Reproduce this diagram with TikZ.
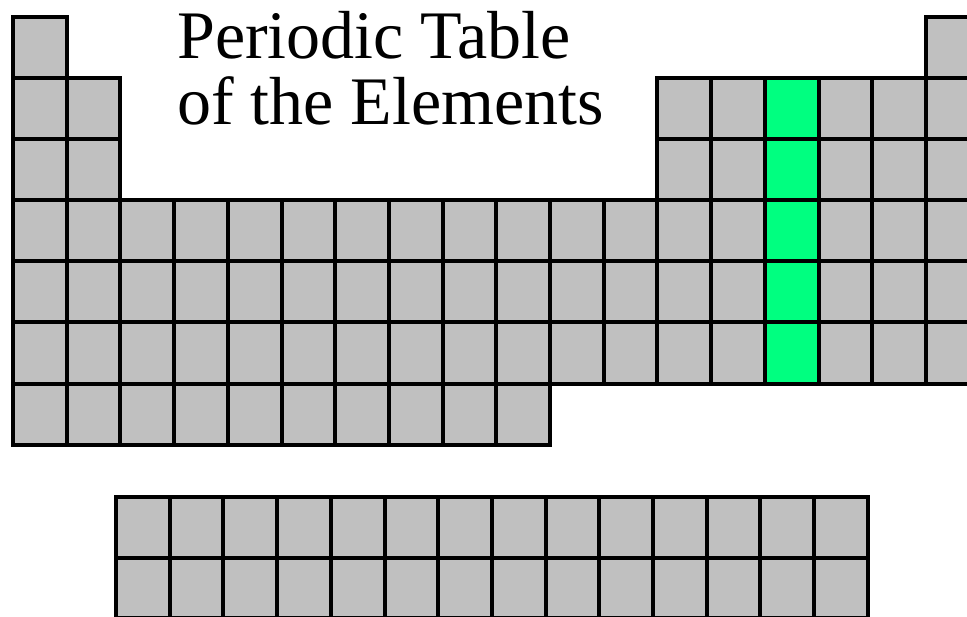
\documentclass[tikz,border=0pt]{standalone}
\usepackage{fontspec}
\setmainfont{Liberation Serif}
\definecolor{cellgray}{RGB}{192,192,192}
\definecolor{cellgreen}{RGB}{0,255,128}
\begin{document}
\begin{tikzpicture}[x=1pt,y=-1pt,
  cell/.style={draw=black, fill=cellgray, line width=4pt, minimum width=53.7pt,
    minimum height=61.1pt, inner sep=0pt, outer sep=0pt, anchor=north west},
  lcell/.style={cell, minimum height=60.5pt},
  greencell/.style={cell, fill=cellgreen},
  titletext/.style={anchor=base west, inner sep=0pt, font=\fontsize{68}{67}\selectfont}]
\useasboundingbox (0,0) rectangle (967,617);
\clip (0,0) rectangle (967,617);
\fill[white] (0,0) rectangle (967,617);
% period 1
\foreach \c in {1,18}
  \node[cell] (c1-\c) at ({13+53.7*(\c-1)},17) {};
% periods 2-3
\foreach \r in {2,3}
  \foreach \c in {1,2,13,14,16,17,18}
    \node[cell] (c\r-\c) at ({13+53.7*(\c-1)},{17+61.1*(\r-1)}) {};
% periods 4-6
\foreach \r in {4,5,6}
  \foreach \c in {1,...,14,16,17,18}
    \node[cell] (c\r-\c) at ({13+53.7*(\c-1)},{17+61.1*(\r-1)}) {};
% period 7
\foreach \c in {1,...,10}
  \node[cell] (c7-\c) at ({13+53.7*(\c-1)},{17+61.1*6}) {};
% highlighted group 15
\foreach \r in {2,...,6}
  \node[greencell] (c\r-15) at ({13+53.7*14},{17+61.1*(\r-1)}) {};
% lanthanides / actinides
\foreach \r in {1,2}
  \foreach \c in {1,...,14}
    \node[lcell] (l\r-\c) at ({116+53.7*(\c-1)},{497+60.5*(\r-1)}) {};
% title
\node[titletext] (title1) at (177,59) {Periodic Table};
\node[titletext] (title2) at (177,125) {of the Elements};
\end{tikzpicture}
\end{document}
